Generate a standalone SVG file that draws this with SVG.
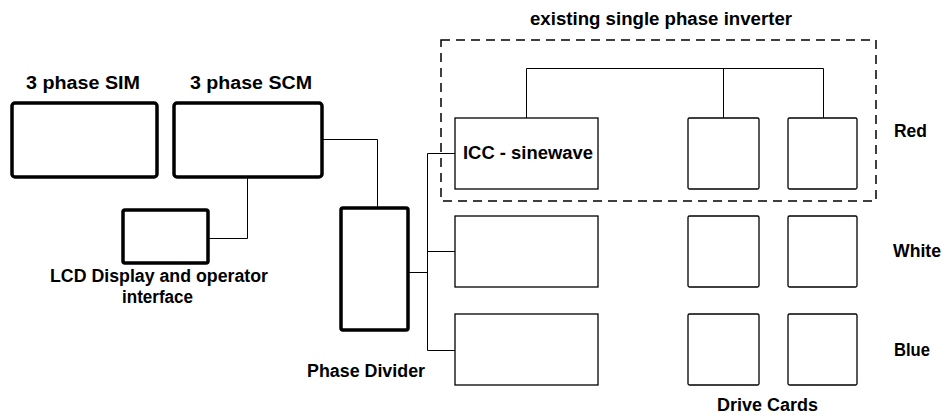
<svg xmlns="http://www.w3.org/2000/svg" width="949" height="416" viewBox="0 0 949 416">
<style>
text{font-family:"Liberation Sans",Arial,sans-serif;font-weight:bold;font-size:18px;fill:#000}
.thick{fill:#fff;stroke:#000;stroke-width:3.5}
.thin{fill:#fff;stroke:#000;stroke-width:1.3}
.wire{fill:none;stroke:#000;stroke-width:1}
.dash{fill:none;stroke:#000;stroke-width:1.5;stroke-dasharray:9 6}
</style>
<rect width="949" height="416" fill="#fff"/>
<g id="connectors">
<polyline class="wire" points="322,139.5 377.5,139.5 377.5,208"/>
<polyline class="wire" points="247.5,177 247.5,238.5 208,238.5"/>
<polyline class="wire" points="408,272.5 427.5,272.5"/>
<polyline class="wire" points="455,153.5 427.5,153.5 427.5,350.5 455,350.5"/>
<polyline class="wire" points="427.5,251.5 455,251.5"/>
<polyline class="wire" points="526.5,118 526.5,68.5 823.5,68.5 823.5,118"/>
<polyline class="wire" points="723.5,68.5 723.5,118"/>
</g>
<g id="inverter-boundary">
<rect class="dash" x="441" y="40" width="435" height="161"/>
<text x="530" y="25" textLength="262" lengthAdjust="spacingAndGlyphs">existing single phase inverter</text>
</g>
<g id="sim">
<rect class="thick" x="12" y="103" width="145" height="74" rx="3"/>
<text x="26" y="89" textLength="114" lengthAdjust="spacingAndGlyphs">3 phase SIM</text>
</g>
<g id="scm">
<rect class="thick" x="174" y="103" width="148" height="74" rx="3"/>
<text x="190" y="89" textLength="122" lengthAdjust="spacingAndGlyphs">3 phase SCM</text>
</g>
<g id="lcd">
<rect class="thick" x="123" y="210" width="85" height="53" rx="2"/>
<text x="50" y="282" textLength="218" lengthAdjust="spacingAndGlyphs">LCD Display and operator</text>
<text x="122" y="303" textLength="71" lengthAdjust="spacingAndGlyphs">interface</text>
</g>
<g id="phase-divider">
<rect class="thick" x="341" y="208" width="67" height="122" rx="2"/>
<text x="307" y="377" textLength="118" lengthAdjust="spacingAndGlyphs">Phase Divider</text>
</g>
<g id="icc-red">
<rect class="thin" x="455" y="118" width="143" height="71"/>
<text x="463" y="159" textLength="130" lengthAdjust="spacingAndGlyphs">ICC - sinewave</text>
</g>
<g id="icc-white"><rect class="thin" x="455" y="216" width="143" height="71"/></g>
<g id="icc-blue"><rect class="thin" x="455" y="314" width="143" height="71"/></g>
<g id="drive-red-1"><rect class="thin" x="688" y="118" width="71" height="71" rx="1.5"/></g>
<g id="drive-red-2"><rect class="thin" x="788" y="118" width="69" height="71" rx="1.5"/></g>
<g id="drive-white-1"><rect class="thin" x="688" y="216" width="71" height="71" rx="1.5"/></g>
<g id="drive-white-2"><rect class="thin" x="788" y="216" width="69" height="71" rx="1.5"/></g>
<g id="drive-blue-1"><rect class="thin" x="688" y="314" width="71" height="71" rx="1.5"/></g>
<g id="drive-blue-2"><rect class="thin" x="788" y="314" width="69" height="71" rx="1.5"/></g>
<g id="labels">
<text x="894" y="137" textLength="33" lengthAdjust="spacingAndGlyphs">Red</text>
<text x="893" y="257" textLength="48" lengthAdjust="spacingAndGlyphs">White</text>
<text x="894" y="356" textLength="36" lengthAdjust="spacingAndGlyphs">Blue</text>
<text x="717" y="411" textLength="101" lengthAdjust="spacingAndGlyphs">Drive Cards</text>
</g>
</svg>
